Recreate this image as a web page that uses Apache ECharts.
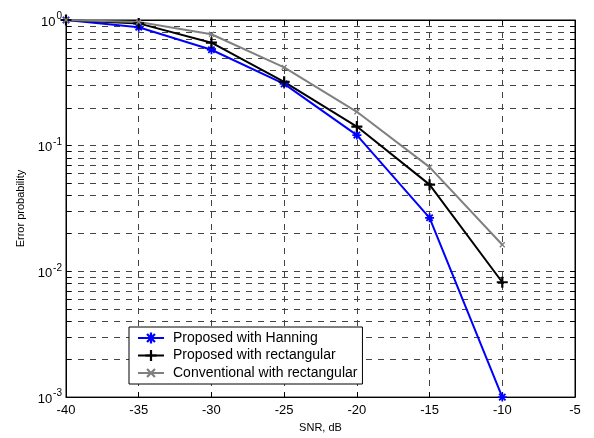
<!DOCTYPE html>
<html>
<head>
<meta charset="utf-8">
<script src="https://cdn.jsdelivr.net/npm/echarts@6/dist/echarts.min.js"></script>
<style>
  html, body { margin: 0; padding: 0; background: #fff; }
  #chart { width: 594px; height: 438px; }
</style>
</head>
<body>
<div id="chart"></div>
<script>
// data
const snr = [-40, -35, -30, -25, -20, -15, -10];
const hanning = [1.0, 0.875, 0.58, 0.31, 0.1215, 0.0267, 0.001];
const proposedRect = [1.0, 0.94, 0.66, 0.322, 0.142, 0.049, 0.0082];
const conventionalRect = [1.0, 0.965, 0.77, 0.42, 0.186, 0.0675, 0.0163];
const seriesNames = ['Proposed with Hanning', 'Proposed with rectangular', 'Conventional with rectangular'];
const xTicks = [-40, -35, -30, -25, -20, -15, -10, -5];
const yDecades = [0.001, 0.01, 0.1, 1];

// log grid: 1..9 x 10^k
const yMinor = [];
[0.001, 0.01, 0.1].forEach(function (d) {
  for (let m = 1; m <= 9; m++) yMinor.push(+(m * d).toPrecision(3));
});
yMinor.push(1);

// marker paths (plus, x, asterisk) built from thin bars
const plusPts = [[-1,-5],[1,-5],[1,-1],[5,-1],[5,1],[1,1],[1,5],[-1,5],[-1,1],[-5,1],[-5,-1],[-1,-1]];
function toPath(pts) {
  return 'M' + pts.map(p => p[0].toFixed(3) + ',' + p[1].toFixed(3)).join('L') + 'Z';
}
function rot(pts, a) {
  const c = Math.cos(a), s = Math.sin(a);
  return pts.map(p => [p[0] * c - p[1] * s, p[0] * s + p[1] * c]);
}
const plusPath = 'path://' + toPath(plusPts) + 'M-5,-5M5,5';
const xPath = 'path://' + toPath(rot(plusPts, Math.PI / 4)) + 'M-5,-5M5,5';
const starPath = 'path://' + toPath(plusPts) + toPath(rot(plusPts, Math.PI / 4));

const font = 'Liberation Sans, Arial, sans-serif';
const dash = { type: [6, 6], color: '#444', width: 1 };

function pairs(vals) { return snr.map((x, i) => [x, vals[i]]); }

const mychart = echarts.init(document.getElementById('chart'));
const option = {
  animation: false,
  backgroundColor: '#fff',
  textStyle: { fontFamily: font },
  grid: { left: 66, right: 19, top: 20, bottom: 39, show: true, borderColor: '#000', borderWidth: 1 },
  legend: {
    orient: 'vertical',
    left: 129, top: 327,
    backgroundColor: '#fff',
    borderColor: '#000', borderWidth: 1,
    padding: [4, 5, 4, 8],
    itemGap: 3.5,
    itemWidth: 26, itemHeight: 14,
    textStyle: { fontSize: 14, fontFamily: font, color: '#000', padding: [0, 0, 0, 4] },
    data: seriesNames
  },
  xAxis: [{
    type: 'value', min: -40, max: -5, interval: 5,
    name: 'SNR, dB', nameLocation: 'middle', nameGap: 23,
    nameTextStyle: { fontSize: 11, color: '#000' },
    axisLine: { lineStyle: { color: '#000' } },
    axisTick: { inside: true, length: 5, lineStyle: { color: '#000' }, customValues: xTicks },
    axisLabel: { fontSize: 13, color: '#000', margin: 7, customValues: xTicks },
    splitLine: { show: true, lineStyle: dash }
  }, {
    type: 'value', min: -40, max: -5, interval: 5, position: 'top',
    axisLine: { lineStyle: { color: '#000' } },
    axisTick: { inside: true, length: 5, lineStyle: { color: '#000' } },
    axisLabel: { show: false }, splitLine: { show: false }
  }],
  yAxis: [{
    type: 'log', logBase: 10, min: 0.001, max: 1,
    name: 'Error probability', nameLocation: 'middle', nameGap: 39,
    nameTextStyle: { fontSize: 11, color: '#000' },
    axisLine: { lineStyle: { color: '#000' } },
    axisTick: { inside: true, length: 5, lineStyle: { color: '#000' }, customValues: yMinor },
    axisLabel: {
      fontSize: 13, color: '#000', margin: 4, customValues: yDecades,
      formatter: function (v) { return '{b|10}{sup|' + Math.round(Math.log10(v)) + '}'; },
      rich: {
        b: { fontSize: 13, color: '#000', padding: [4, 0, 0, 0] },
        sup: { fontSize: 10, verticalAlign: 'top', padding: [0, 0, 6, 1], color: '#000' }
      }
    },
    splitLine: { show: true, lineStyle: dash }
  }, {
    type: 'log', logBase: 10, min: 0.001, max: 1, position: 'right',
    axisLine: { lineStyle: { color: '#000' } },
    axisTick: { inside: true, length: 5, lineStyle: { color: '#000' }, customValues: yMinor },
    axisLabel: { show: false }, splitLine: { show: false }
  }],
  series: [{
    name: seriesNames[0], type: 'line', data: pairs(hanning),
    symbol: starPath, symbolSize: 9, showAllSymbol: true,
    lineStyle: { color: '#0000ff', width: 2 }, itemStyle: { color: '#0000ff' }
  }, {
    name: seriesNames[1], type: 'line', data: pairs(proposedRect),
    symbol: plusPath, symbolSize: 11,
    lineStyle: { color: '#000', width: 2 }, itemStyle: { color: '#000' }
  }, {
    name: seriesNames[2], type: 'line', data: pairs(conventionalRect),
    symbol: xPath, symbolSize: 7,
    lineStyle: { color: '#808080', width: 2 }, itemStyle: { color: '#808080' }
  }]
};
mychart.setOption(option);
window.addEventListener('resize', function () { mychart.resize(); });
</script>
</body>
</html>
